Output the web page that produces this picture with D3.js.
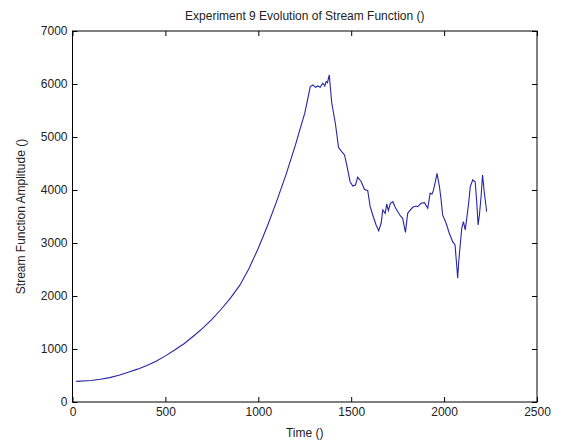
<!DOCTYPE html>
<html lang="en">
<head>
  <meta charset="UTF-8">
  <title>Stream Function</title>
  <script src="https://d3js.org/d3.v7.min.js"></script>
  <style>
    body { margin: 0; background: #fff; }
    text { font-family: "Liberation Sans", Arial, sans-serif; fill: #222; }
  </style>
</head>
<body>
  <svg></svg>
  <script>
    // (time, amplitude)
    const time = [20, 100, 150, 200, 250, 300, 350, 400, 450, 500, 550, 600, 650, 700, 750, 800, 850, 900, 950,
      1000, 1050, 1100, 1150, 1200, 1250,
      1280, 1294, 1308, 1320, 1333, 1347, 1358, 1365, 1372, 1382, 1395, 1415, 1432, 1450, 1464, 1476, 1494,
      1509, 1523, 1535, 1554, 1571, 1589, 1602, 1616, 1634, 1648, 1661, 1670, 1683, 1691, 1700, 1711, 1724,
      1737, 1751, 1765, 1777, 1792, 1804, 1813, 1831, 1849, 1858, 1876, 1894, 1912, 1925, 1935, 1942, 1953,
      1962, 1975, 1984, 1992, 2011, 2028, 2046, 2059, 2064, 2070, 2073, 2078, 2086, 2095, 2104, 2114, 2123,
      2132, 2141, 2154, 2167, 2175, 2183, 2190, 2199, 2207, 2216, 2226, 2229];
    const amplitude = [390, 405, 428, 460, 505, 560, 620, 690, 770, 870, 980, 1100, 1240, 1390, 1560, 1750, 1960, 2200, 2520,
      2900, 3330, 3800, 4300, 4850, 5450,
      5950, 5982, 5938, 5963, 5938, 6014, 5963, 6044, 6025, 6170, 5650, 5250, 4800, 4720, 4661, 4472, 4157,
      4076, 4095, 4240, 4157, 4014, 3987, 3685, 3529, 3340, 3232, 3372, 3623, 3561, 3736, 3610, 3749, 3780,
      3674, 3591, 3510, 3466, 3200, 3560, 3600, 3674, 3698, 3685, 3749, 3761, 3655, 3938, 3925, 3987, 4157,
      4315, 4063, 3812, 3529, 3372, 3183, 3025, 2963, 2742, 2491, 2334, 2617, 2931, 3278, 3402, 3246, 3497,
      3749, 4063, 4189, 4157, 3812, 3340, 3529, 3874, 4283, 3968, 3685, 3591];
    const xTicks = [0, 500, 1000, 1500, 2000, 2500];
    const yTicks = [0, 1000, 2000, 3000, 4000, 5000, 6000, 7000];

    const width = 563, height = 444;
    const margin = {top: 31, right: 26, bottom: 42, left: 72.5};
    const w = width - margin.left - margin.right;
    const h = height - margin.top - margin.bottom;

    const data = time.map((t, i) => ({t: t, a: amplitude[i]}));

    const svg = d3.select("svg").attr("width", width).attr("height", height);
    const g = svg.append("g").attr("transform", `translate(${margin.left},${margin.top})`);

    const x = d3.scaleLinear().domain([0, 2500]).range([0, w]);
    const y = d3.scaleLinear().domain([0, 7000]).range([h, 0]);
    const fmt = d3.format("d");

    function styleAxis(sel) {
      sel.selectAll("path").remove();
      sel.selectAll("line").attr("stroke", "#000");
      sel.selectAll("text").style("font-size", "12px").attr("fill", "#222");
    }

    g.append("g").attr("transform", `translate(0,${h})`)
      .call(d3.axisBottom(x).tickValues(xTicks).tickFormat(fmt).tickSizeInner(-5).tickSizeOuter(0).tickPadding(5))
      .call(styleAxis);
    g.append("g")
      .call(d3.axisTop(x).tickValues(xTicks).tickSizeInner(-5).tickSizeOuter(0).tickFormat(""))
      .call(styleAxis);
    g.append("g")
      .call(d3.axisLeft(y).tickValues(yTicks).tickFormat(fmt).tickSizeInner(-5).tickSizeOuter(0).tickPadding(5))
      .call(styleAxis);
    g.append("g").attr("transform", `translate(${w},0)`)
      .call(d3.axisRight(y).tickValues(yTicks).tickSizeInner(-5).tickSizeOuter(0).tickFormat(""))
      .call(styleAxis);

    g.append("rect")
      .attr("width", w).attr("height", h)
      .attr("fill", "none").attr("stroke", "#000").attr("stroke-width", 1);

    const line = d3.line().x(d => x(d.t)).y(d => y(d.a));
    g.append("path").datum(data)
      .attr("d", line)
      .attr("fill", "none")
      .attr("stroke", "#2525a8")
      .attr("stroke-width", 1.1);

    svg.append("text")
      .attr("x", margin.left + w / 2).attr("y", 20)
      .attr("text-anchor", "middle").style("font-size", "12px")
      .text("Experiment 9 Evolution of Stream Function ()");
    svg.append("text")
      .attr("x", margin.left + w / 2).attr("y", 437)
      .attr("text-anchor", "middle").style("font-size", "12px")
      .text("Time ()");
    svg.append("text")
      .attr("transform", `translate(25,${margin.top + h / 2}) rotate(-90)`)
      .attr("text-anchor", "middle").style("font-size", "12px")
      .text("Stream Function Amplitude ()");
  </script>
</body>
</html>
